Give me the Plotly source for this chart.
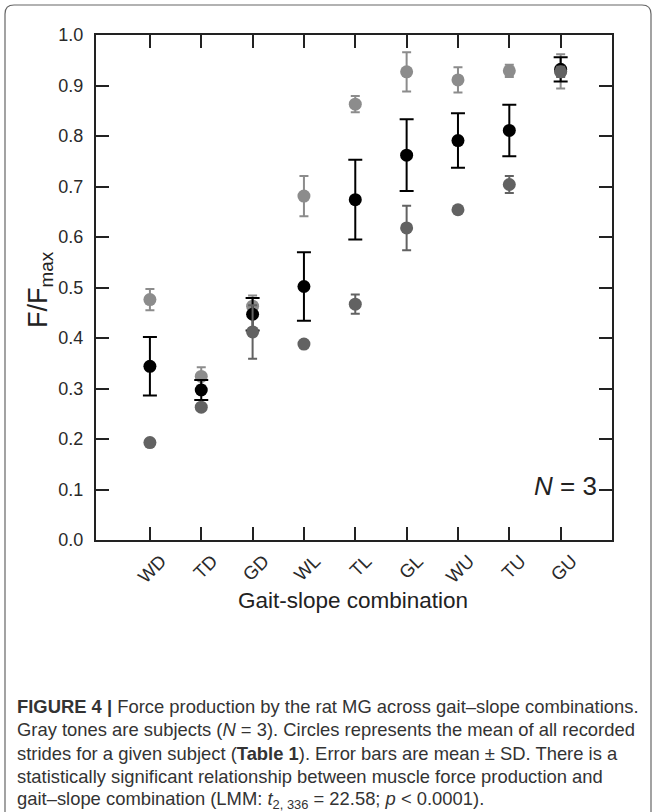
import plotly.graph_objects as go

categories = ["WD", "TD", "GD", "WL", "TL", "GL", "WU", "TU", "GU"]

subj_light_mean = [0.476, 0.324, 0.463, 0.681, 0.863, 0.927, 0.911, 0.929, 0.928]
subj_light_sd   = [0.021, 0.018, 0.021, 0.040, 0.016, 0.039, 0.025, 0.012, 0.034]

subj_black_mean = [0.344, 0.297, 0.447, 0.502, 0.674, 0.762, 0.791, 0.811, 0.932]
subj_black_sd   = [0.058, 0.020, 0.032, 0.068, 0.079, 0.071, 0.054, 0.051, 0.024]

subj_dark_mean  = [0.193, 0.263, 0.412, 0.388, 0.467, 0.618, 0.654, 0.704, 0.927]
subj_dark_sd    = [0.002, 0.003, 0.053, 0.004, 0.019, 0.044, 0.003, 0.017, 0.010]

y_ticks = [0.0, 0.1, 0.2, 0.3, 0.4, 0.5, 0.6, 0.7, 0.8, 0.9, 1.0]

W, H = 657, 812
L, R, T, B = 96, 612, 35, 540  # plot area in pixels


def px(xp):
    return (xp - L) / (R - L)


def py(yp):
    return (B - yp) / (B - T)


xi = list(range(len(categories)))

fig = go.Figure()

series = [
    (subj_light_mean, subj_light_sd, "#8c8c8c", 4.5, 2),
    (subj_black_mean, subj_black_sd, "#000000", 7, 2),
    (subj_dark_mean, subj_dark_sd, "#626262", 4.5, 2),
]
for mean, sd, col, cw, th in series:
    fig.add_trace(go.Scatter(
        x=xi, y=mean, mode="markers",
        marker=dict(size=13, color=col, line=dict(width=0)),
        error_y=dict(type="data", array=sd, visible=True, color=col,
                     thickness=th, width=cw),
        showlegend=False, cliponaxis=False, hoverinfo="skip",
    ))

FONT = "Liberation Sans, Arial, sans-serif"
axis_font = dict(family=FONT, size=18, color="#2a2a2a")

fig.update_xaxes(
    range=[-1.05, 9.0], tickmode="array", tickvals=xi, ticktext=categories,
    tickangle=-45, ticks="inside", ticklen=13, tickwidth=1.6, tickcolor="#222",
    showline=True, linewidth=2, linecolor="#222", mirror="ticks",
    showgrid=False, zeroline=False, tickfont=dict(family=FONT, size=18.5, color="#2a2a2a"),
    ticklabelstandoff=1, ticklabelshift=11,
)
fig.update_yaxes(
    range=[0, 1.0], tickmode="array", tickvals=y_ticks,
    ticktext=[f"{v:.1f}" for v in y_ticks],
    ticks="inside", ticklen=13, tickwidth=1.6, tickcolor="#222",
    showline=True, linewidth=2, linecolor="#222", mirror="ticks",
    showgrid=False, zeroline=False, tickfont=axis_font, ticklabelstandoff=7,
)

annotations = []
annotations.append(dict(
    text="Gait-slope combination", xref="paper", yref="paper",
    x=px(353), y=py(600), xanchor="center", yanchor="middle",
    showarrow=False, font=dict(family=FONT, size=22.5, color="#222")))
annotations.append(dict(
    text="F/F<sub>max</sub>", xref="paper", yref="paper", textangle=-90,
    x=px(40), y=py(290), xanchor="center", yanchor="middle",
    showarrow=False, font=dict(family=FONT, size=27, color="#222")))
annotations.append(dict(
    text="<i>N</i> = 3", xref="paper", yref="paper",
    x=px(599), y=py(486), xanchor="right", yanchor="middle",
    showarrow=False, font=dict(family=FONT, size=26, color="#222")))

caption_lines = [
    "<b>FIGURE 4 |</b> Force production by the rat MG across gait–slope combinations.",
    "Gray tones are subjects (<i>N</i> = 3). Circles represents the mean of all recorded",
    "strides for a given subject (<b>Table 1</b>). Error bars are mean ± SD. There is a",
    "statistically significant relationship between muscle force production and",
    "gait–slope combination (LMM: <i>t</i><sub>2, 336</sub> = 22.58; <i>p</i> &lt; 0.0001).",
]
cap_font = dict(family=FONT, size=18.4, color="#333333")
for k, line in enumerate(caption_lines):
    annotations.append(dict(
        text=line, xref="paper", yref="paper",
        x=px(15), y=py(706 + 23.6 * k), xanchor="left", yanchor="middle",
        showarrow=False, font=cap_font))

# rounded outer frame (bottom edge below the page)
x0, x1, y0, y1, rr = 5, 651, 5, 840, 9
path = (f"M{px(x0)},{py(y1)} L{px(x0)},{py(y0 + rr)} "
        f"Q{px(x0)},{py(y0)} {px(x0 + rr)},{py(y0)} "
        f"L{px(x1 - rr)},{py(y0)} Q{px(x1)},{py(y0)} {px(x1)},{py(y0 + rr)} "
        f"L{px(x1)},{py(y1)}")
shapes = [dict(type="path", xref="paper", yref="paper", path=path,
               line=dict(color="#666666", width=1.2))]

fig.update_layout(
    width=W, height=H,
    margin=dict(l=L, r=W - R, t=T, b=H - B),
    paper_bgcolor="white", plot_bgcolor="white",
    annotations=annotations, shapes=shapes,
    font=dict(family=FONT),
)

fig.write_html("out.html", config={"displayModeBar": False},
               post_script="document.body.style.margin='0';")
